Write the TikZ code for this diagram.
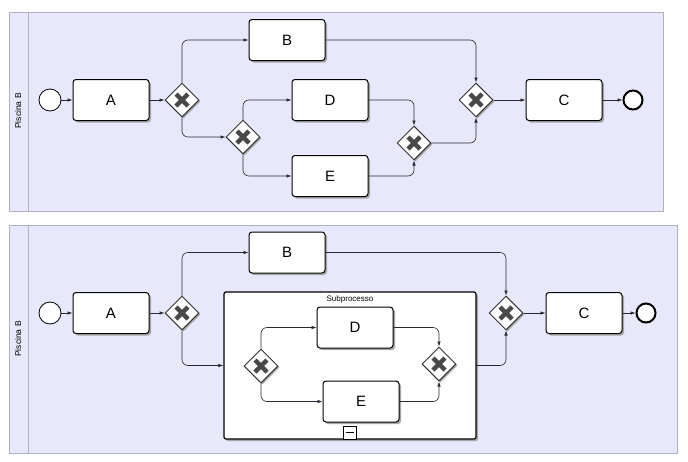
\documentclass[tikz,border=0pt]{standalone}
\usepackage{fontspec}
\setmainfont{Liberation Sans}
\usetikzlibrary{shapes.geometric, arrows.meta, positioning, shadows}
\definecolor{poolfill}{RGB}{232,232,252}
\definecolor{poolline}{RGB}{176,176,192}
\definecolor{crossgray}{RGB}{72,72,72}
\definecolor{flowline}{RGB}{40,40,50}

\begin{document}
\begin{tikzpicture}[
    x=1pt, y=-1pt,
    font=\fontsize{15}{18}\selectfont,
    task/.style={draw, line width=1pt, fill=white, rounded corners=3pt,
                 minimum width=76pt, minimum height=41pt,
                 drop shadow={shadow xshift=2pt, shadow yshift=-2pt, fill=gray!70, opacity=1}},
    gw/.style={diamond, draw=gray!40!black, line width=1pt, fill=white, aspect=1,
               minimum width=34pt, minimum height=34pt, inner sep=0pt,
               drop shadow={shadow xshift=1.5pt, shadow yshift=-1.5pt, fill=gray!70, opacity=1},
               path picture={\draw[line width=4.5pt, crossgray]
                   ([shift={(-6pt,-6pt)}]path picture bounding box.center) --
                   ([shift={(6pt,6pt)}]path picture bounding box.center)
                   ([shift={(-6pt,6pt)}]path picture bounding box.center) --
                   ([shift={(6pt,-6pt)}]path picture bounding box.center);}},
    startev/.style={circle, draw, line width=0.8pt, fill=white, minimum size=22pt, inner sep=0pt},
    endev/.style={circle, draw, line width=2pt, fill=white, minimum size=19pt, inner sep=0pt},
    flow/.style={-{Latex[length=5pt,width=3.5pt]}, line width=0.6pt, draw=flowline, rounded corners=6pt},
    lanelbl/.style={rotate=90, font=\fontsize{8.5}{10}\selectfont},
    subproc/.style={draw, line width=1.2pt, fill=white, rounded corners=2pt,
                    minimum width=252pt, minimum height=147pt,
                    drop shadow={shadow xshift=2pt, shadow yshift=-2pt, fill=gray!70, opacity=1}}
]
\useasboundingbox (0,0) rectangle (688,461);

% pools
\fill[poolfill] (9,12) rectangle (663,211);
\draw[poolline] (9,12) rectangle (663,211) (28,12) -- (28,211);
\fill[poolfill] (9,225) rectangle (677,453);
\draw[poolline] (9,225) rectangle (677,453) (28,225) -- (28,453);
\node[lanelbl] (laneA) at (18,111) {Piscina B};
\node[lanelbl] (laneB) at (18,339) {Piscina B};

% top process
\node[startev] (startA) at (50,100) {};
\node[task]    (taskA)  at (111,100) {A};
\node[gw]      (gwA1)   at (182,100) {};
\node[task]    (taskB)  at (287,40) {B};
\node[gw]      (gwA2)   at (243,137) {};
\node[task]    (taskD)  at (330,100) {D};
\node[task]    (taskE)  at (330,176) {E};
\node[gw]      (gwA4)   at (414,143) {};
\node[gw]      (gwA3)   at (476,100) {};
\node[task]    (taskC)  at (564,100) {C};
\node[endev]   (endA)   at (633,100) {};

\draw[flow] (startA) -- (taskA);
\draw[flow] (taskA) -- (gwA1);
\draw[flow] (gwA1.north) |- (taskB.west);
\draw[flow] (taskB.east) -| (gwA3.north);
\draw[flow] (gwA1.south) |- (gwA2.west);
\draw[flow] (gwA2.north) |- (taskD.west);
\draw[flow] (gwA2.south) |- (taskE.west);
\draw[flow] (taskD.east) -| (gwA4.north);
\draw[flow] (taskE.east) -| (gwA4.south);
\draw[flow] (gwA4.east) -| (gwA3.south);
\draw[flow] (gwA3) -- (taskC);
\draw[flow] (taskC) -- (endA);

% bottom process with subprocess
\node[startev] (startB) at (50,313) {};
\node[task]    (taskA2) at (111,313) {A};
\node[gw]      (gwB1)   at (182,313) {};
\node[task]    (taskB2) at (287,252.5) {B};
\node[subproc] (sub)    at (350,365.5) {};
\node[font=\fontsize{8}{9}\selectfont, below=0.5pt of sub.north] (sublbl) {Subprocesso};
\node[draw, line width=0.8pt, fill=white, minimum size=13pt, inner sep=0pt, anchor=south]
    (submark) at (sub.south) {};
\draw[line width=0.8pt] ([xshift=2.5pt]submark.west) -- ([xshift=-2.5pt]submark.east);
\node[gw]      (gwS1)   at (261,366) {};
\node[task]    (taskD2) at (355,327.5) {D};
\node[task]    (taskE2) at (361,401.5) {E};
\node[gw]      (gwS2)   at (439,364) {};
\node[gw]      (gwB3)   at (506,313) {};
\node[task]    (taskC2) at (584,313) {C};
\node[endev]   (endB)   at (646,313) {};

\draw[flow] (startB) -- (taskA2);
\draw[flow] (taskA2) -- (gwB1);
\draw[flow] (gwB1.north) |- (taskB2.west);
\draw[flow] (taskB2.east) -| (gwB3.north);
\draw[flow] (gwB1.south) |- (sub.west);
\draw[flow] (gwS1.north) |- (taskD2.west);
\draw[flow] (gwS1.south) |- (taskE2.west);
\draw[flow] (taskD2.east) -| (gwS2.north);
\draw[flow] (taskE2.east) -| (gwS2.south);
\draw[flow] (sub.east) -| (gwB3.south);
\draw[flow] (gwB3) -- (taskC2);
\draw[flow] (taskC2) -- (endB);

\end{tikzpicture}
\end{document}
